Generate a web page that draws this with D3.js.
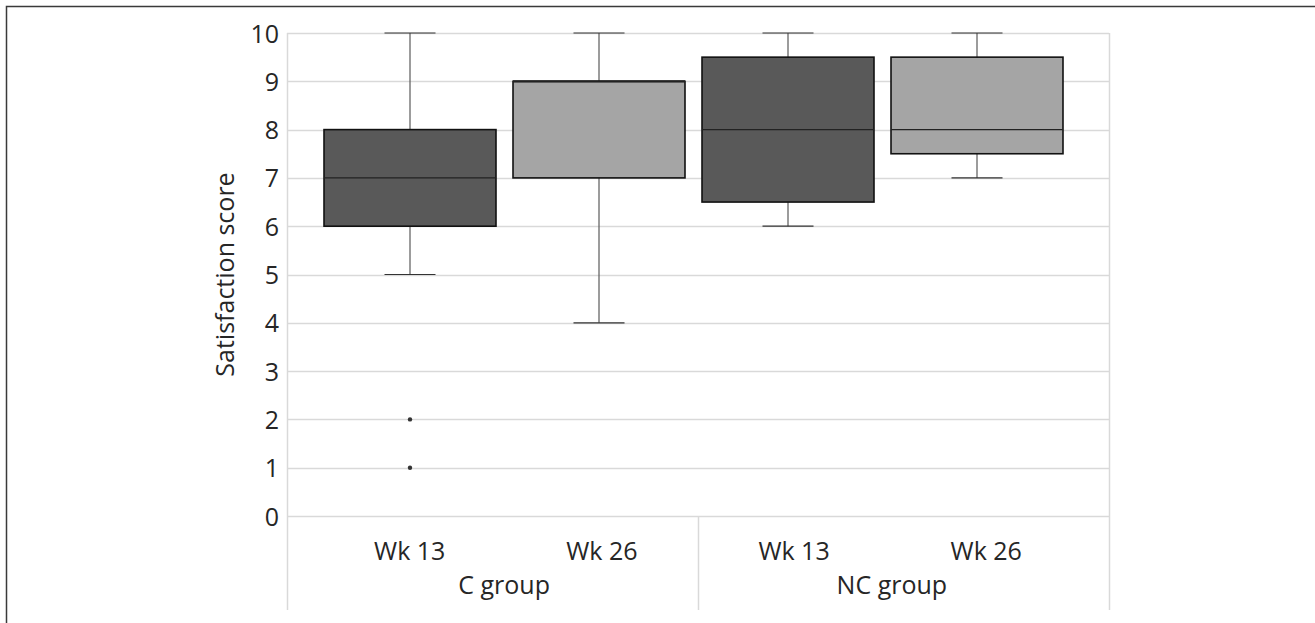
<!DOCTYPE html>
<html>
<head>
<meta charset="utf-8">
<script src="https://cdn.jsdelivr.net/npm/d3@7"></script>
<style>
  body { margin: 0; background: #fff; }
  svg text { font-family: "Open Sans", sans-serif; fill: #262626; }
</style>
</head>
<body>
<div id="chart"></div>
<script>
// satisfaction scores
const groups = ["C group", "NC group"];
const weeks = ["Wk 13", "Wk 26", "Wk 13", "Wk 26"];
const boxGroup = ["C group", "C group", "NC group", "NC group"];
const whiskerLow = [5, 4, 6, 7];
const q1 = [6, 7, 6.5, 7.5];
const median = [7, 9, 8, 8];
const q3 = [8, 9, 9.5, 9.5];
const whiskerHigh = [10, 10, 10, 10];
const outliers = [[2, 1], [], [], []];
const yTicks = [0, 1, 2, 3, 4, 5, 6, 7, 8, 9, 10];

const width = 1315, height = 623;
const plot = { left: 287, right: 1109, top: 33, bottom: 516 };
const fontSize = 25;

const boxes = weeks.map((w, i) => ({
    key: boxGroup[i] + "|" + w + "|" + i,
    week: w,
    group: boxGroup[i],
    lo: whiskerLow[i], q1: q1[i], med: median[i], q3: q3[i], hi: whiskerHigh[i],
    out: outliers[i]
}));

const svg = d3.select("#chart")
    .append("svg")
    .attr("width", width)
    .attr("height", height);

// outer frame (cropped at right and bottom)
svg.append("path")
    .attr("d", `M6.5,${height}V6.5H${width}`)
    .attr("fill", "none")
    .attr("stroke", "#3a3a3a")
    .attr("stroke-width", 1.5);

const y = d3.scaleLinear()
    .domain([0, 10])
    .range([plot.bottom, plot.top]);

const x = d3.scaleBand()
    .domain(boxes.map(d => d.key))
    .range([315.5, 1071.5])
    .paddingInner(0.09)
    .paddingOuter(0.045);

const xLabel = d3.scaleBand()
    .domain(boxes.map(d => d.key))
    .range([plot.left, plot.right])
    .paddingOuter(0.139);

const xGroup = d3.scaleBand()
    .domain(groups)
    .range([plot.left, plot.right])
    .paddingOuter(0.06);

const color = d3.scaleOrdinal()
    .domain(["Wk 13", "Wk 26"])
    .range(["#595959", "#a5a5a5"]);

// gridlines
svg.append("g")
    .selectAll("line")
    .data(yTicks)
    .enter().append("line")
    .attr("x1", plot.left)
    .attr("x2", plot.right)
    .attr("y1", d => Math.round(y(d)) + 0.5)
    .attr("y2", d => Math.round(y(d)) + 0.5)
    .attr("stroke", "#d9d9d9")
    .attr("stroke-width", 1.5);

// plot sides and the group separator
const seps = [plot.left, (xGroup("C group") + xGroup.bandwidth() + xGroup("NC group")) / 2, plot.right];
svg.append("g")
    .selectAll("line")
    .data(seps)
    .enter().append("line")
    .attr("x1", d => Math.round(d) + 0.5)
    .attr("x2", d => Math.round(d) + 0.5)
    .attr("y1", (d, i) => i === 1 ? plot.bottom : plot.top)
    .attr("y2", 610)
    .attr("stroke", "#d9d9d9")
    .attr("stroke-width", 1.5);

// y axis labels
const yAxis = svg.append("g")
    .attr("transform", `translate(${plot.left},0)`)
    .call(d3.axisLeft(y).tickValues(yTicks).tickSize(0).tickPadding(8));
yAxis.select(".domain").remove();
yAxis.selectAll("text")
    .attr("font-size", fontSize)
    .attr("dy", "0.36em");

svg.append("text")
    .attr("transform", `translate(225,${(plot.top + plot.bottom) / 2}) rotate(-90)`)
    .attr("text-anchor", "middle")
    .attr("dy", "0.36em")
    .attr("font-size", fontSize)
    .text("Satisfaction score");

// category labels
svg.append("g")
    .selectAll("text")
    .data(boxes)
    .enter().append("text")
    .attr("x", d => xLabel(d.key) + xLabel.bandwidth() / 2)
    .attr("y", 560)
    .attr("text-anchor", "middle")
    .attr("font-size", fontSize)
    .text(d => d.week);

svg.append("g")
    .selectAll("text")
    .data(groups)
    .enter().append("text")
    .attr("x", d => xGroup(d) + xGroup.bandwidth() / 2)
    .attr("y", 594)
    .attr("text-anchor", "middle")
    .attr("font-size", fontSize)
    .text(d => d);

// boxes
const bw = x.bandwidth();
const capW = 51;
const g = svg.append("g")
    .selectAll("g")
    .data(boxes)
    .enter().append("g")
    .attr("transform", d => `translate(${x(d.key)},0)`);

// whiskers
g.append("line")
    .attr("x1", bw / 2).attr("x2", bw / 2)
    .attr("y1", d => y(d.hi)).attr("y2", d => y(d.q3))
    .attr("stroke", "#5a5a5a").attr("stroke-width", 1.2);
g.append("line")
    .attr("x1", bw / 2).attr("x2", bw / 2)
    .attr("y1", d => y(d.q1)).attr("y2", d => y(d.lo))
    .attr("stroke", "#5a5a5a").attr("stroke-width", 1.2);
g.selectAll(".cap")
    .data(d => [d.hi, d.lo])
    .enter().append("line")
    .attr("class", "cap")
    .attr("x1", bw / 2 - capW / 2).attr("x2", bw / 2 + capW / 2)
    .attr("y1", d => y(d)).attr("y2", d => y(d))
    .attr("stroke", "#333").attr("stroke-width", 1.2);

g.append("rect")
    .attr("x", 0)
    .attr("width", bw)
    .attr("y", d => y(d.q3))
    .attr("height", d => y(d.q1) - y(d.q3))
    .attr("fill", d => color(d.week))
    .attr("stroke", "#111")
    .attr("stroke-width", 1.6);

g.append("line")
    .attr("x1", 0).attr("x2", bw)
    .attr("y1", d => y(d.med)).attr("y2", d => y(d.med))
    .attr("stroke", "#222").attr("stroke-width", d => d.med === d.q3 ? 2.2 : 1.3);

g.selectAll("circle")
    .data(d => d.out)
    .enter().append("circle")
    .attr("cx", bw / 2)
    .attr("cy", d => y(d))
    .attr("r", 2.2)
    .attr("fill", "#333");
</script>
</body>
</html>
